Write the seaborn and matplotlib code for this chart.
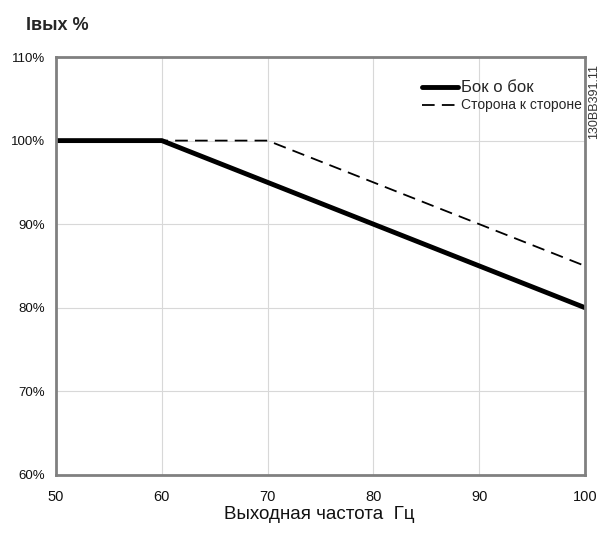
import matplotlib

matplotlib.use("Agg")
import matplotlib.pyplot as plt
import pandas as pd
import seaborn as sns

sns.set_style("white")
plt.rcParams["font.family"] = ["Liberation Sans", "DejaVu Sans"]

side_freq = [50, 60, 100]
side_current = [100, 100, 80]
edge_freq = [50, 60, 70, 100]
edge_current = [100, 100, 100, 85]
x_ticks = [50, 60, 70, 80, 90, 100]
y_ticks = [60, 70, 80, 90, 100, 110]

df_side = pd.DataFrame({"freq": side_freq, "current": side_current})
df_edge = pd.DataFrame({"freq": edge_freq, "current": edge_current})

fig = plt.figure(figsize=(6.02, 5.33), dpi=100)
ax = fig.add_axes([0.093, 0.109, 0.879, 0.784])

sns.lineplot(data=df_edge, x="freq", y="current", ax=ax, color="black",
             linewidth=1.3, linestyle=(0, (7, 4)), label="Сторона к стороне")
sns.lineplot(data=df_side, x="freq", y="current", ax=ax, color="black",
             linewidth=3.5, label="Бок о бок")

ax.set_xlim(50, 100)
ax.set_ylim(60, 110)
ax.set_xticks(x_ticks)
ax.set_yticks(y_ticks)
ax.set_xticklabels([str(t) for t in x_ticks], fontsize=10.5, color="#111111")
ax.set_yticklabels([f"{t}%" for t in y_ticks], fontsize=9.5, color="#111111")
ax.tick_params(axis="x", length=0, pad=11)
ax.tick_params(axis="y", length=0, pad=8)
ax.grid(True, color="#d8d8d8", linewidth=0.8)
for s in ax.spines.values():
    s.set_color("#808080")
    s.set_linewidth(2)

ax.set_xlabel("")
ax.set_ylabel("")
fig.text(0.53, 0.018, "Выходная частота  Гц", fontsize=13.5, ha="center",
         va="bottom", color="#111111")

handles, labels = ax.get_legend_handles_labels()
leg = ax.legend(handles[::-1], labels[::-1], loc="upper right",
                bbox_to_anchor=(1.01, 0.965), frameon=False,
                handlelength=2.6, handletextpad=0.2, borderaxespad=0.2,
                labelspacing=0.25)
leg.get_texts()[0].set_fontsize(12)
leg.get_texts()[1].set_fontsize(10)

fig.text(0.043, 0.953, "Iвых %", fontsize=13, fontweight="bold", ha="left", va="center")
fig.text(0.986, 0.81, "130BB391.11", fontsize=9, rotation=90, ha="center",
         va="center", color="#333333")

fig.savefig("out.png", dpi=100)
